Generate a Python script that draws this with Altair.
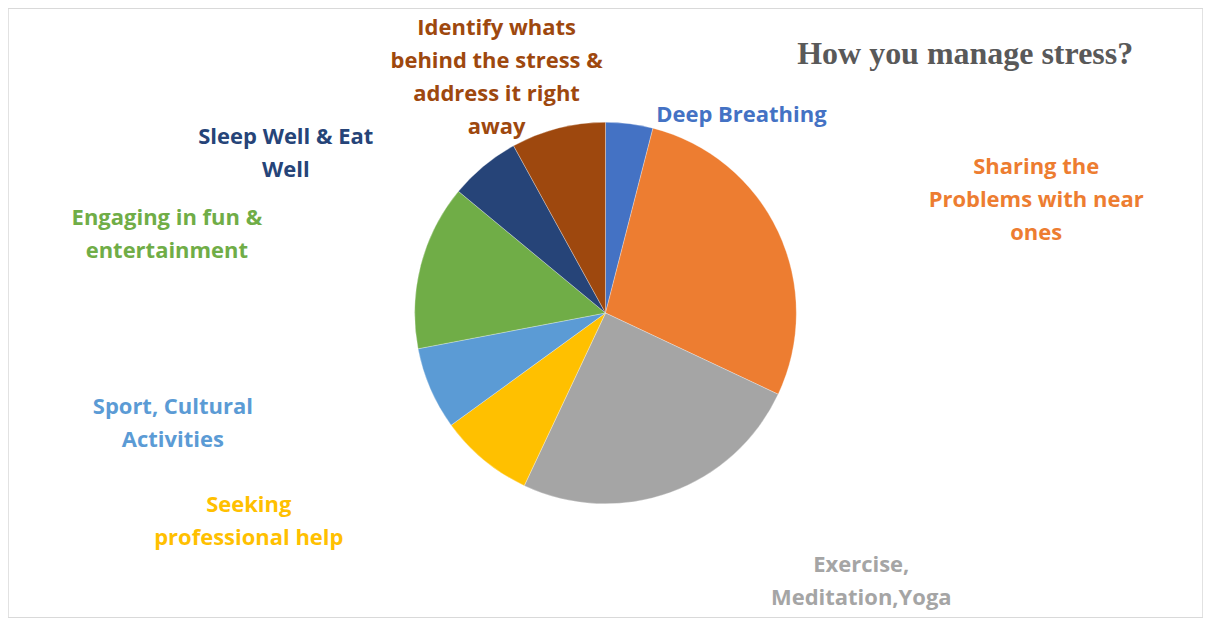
import altair as alt
import pandas as pd

# ---- data ----
categories = [
    "Deep Breathing",
    "Sharing the Problems with near ones",
    "Exercise, Meditation,Yoga",
    "Seeking professional help",
    "Sport, Cultural Activities",
    "Engaging in fun & entertainment",
    "Sleep Well & Eat Well",
    "Identify whats behind the stress & address it right away",
]
values = [4, 28, 25, 8, 7, 14, 6, 8]
label_lines = [
    ["Deep Breathing"],
    ["Sharing the", "Problems with near", "ones"],
    ["Exercise,", "Meditation,Yoga"],
    ["Seeking", "professional help"],
    ["Sport, Cultural", "Activities"],
    ["Engaging in fun &", "entertainment"],
    ["Sleep Well & Eat", "Well"],
    ["Identify whats", "behind the stress &", "address it right", "away"],
]
colors = ["#4472C4", "#ED7D31", "#A5A5A5", "#FFC000",
          "#5B9BD5", "#70AD47", "#264478", "#9E480E"]
title_text = "How you manage stress?"

# ---- layout (pixel placement of annotations, not data) ----
W, H = 1196, 610
# (x centre, y of first line)
label_pos = [(734, 107), (1029, 159), (854, 557), (241, 497),
             (165, 399), (159, 210), (278, 129), (489, 20)]

df = pd.DataFrame({
    "category": categories,
    "value": values,
    "order": list(range(len(categories))),
})

color_scale = alt.Scale(domain=categories, range=colors)

pie = alt.Chart(df).mark_arc(radius=191, stroke="white", strokeWidth=0.3).encode(
    theta=alt.Theta("value:Q", stack=True),
    order=alt.Order("order:Q"),
    color=alt.Color("category:N", scale=color_scale, legend=None),
)

label_layers = []
for cat, lines, col, (px, py) in zip(categories, label_lines, colors, label_pos):
    ldf = pd.DataFrame({"category": [cat], "text": [lines]})
    label_layers.append(
        alt.Chart(ldf).mark_text(
            font="Open Sans", fontSize=22, fontWeight="bold", lineHeight=33,
            align="center", baseline="middle", color=col,
        ).encode(text="text", x=alt.value(px), y=alt.value(py))
    )

title = alt.Chart(pd.DataFrame({"t": [title_text]})).mark_text(
    font="Liberation Serif", fontSize=32, fontWeight="bold",
    color="#595959", align="center", baseline="middle",
).encode(text="t:N", x=alt.value(958), y=alt.value(46))

chart = alt.layer(pie, *label_layers, title).properties(
    width=W, height=H, padding=0,
    autosize=alt.AutoSizeParams(type="fit", contains="padding"),
).configure_view(stroke="#d9d9d9", strokeWidth=1.5)

chart.save("out.html", embed_options={"renderer": "svg", "actions": False})
